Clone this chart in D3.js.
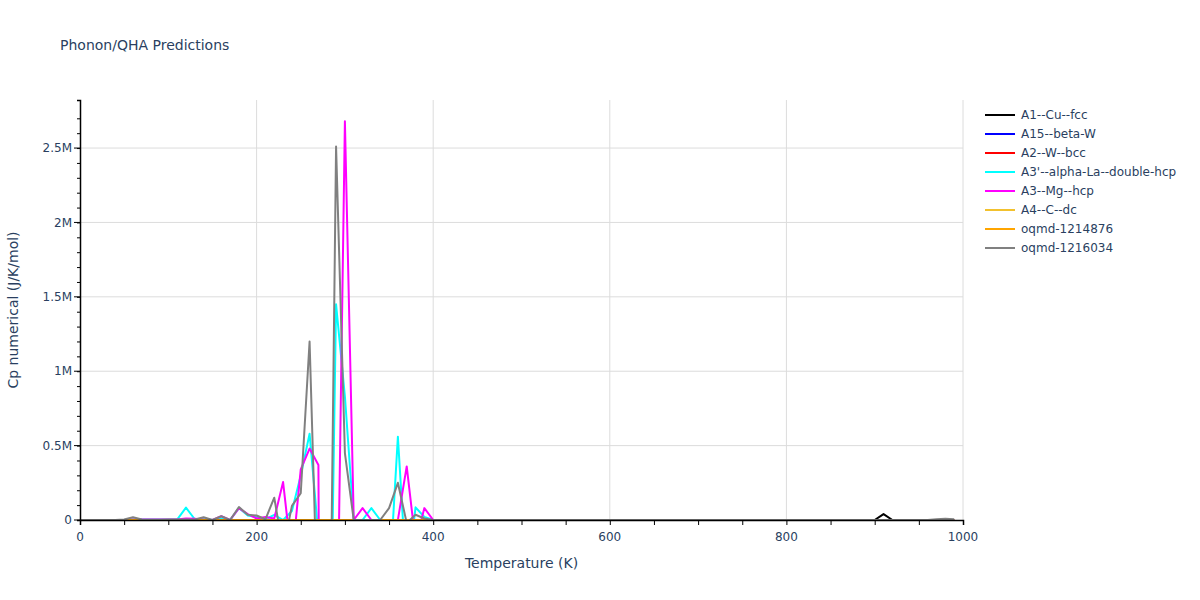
<!DOCTYPE html>
<html>
<head>
<meta charset="utf-8">
<script src="https://cdn.jsdelivr.net/npm/d3@7"></script>
<style>
  body { margin: 0; background: #fff; }
  text { font-family: "DejaVu Sans", Verdana, sans-serif; }
</style>
</head>
<body>
<div id="plot"></div>
<script>
// Temperature grid (K)
const temps = [
  0, 10, 20, 30, 40, 50, 60, 70, 80, 90, 100, 110, 120, 130, 140, 150, 160, 170, 180, 190,
  200, 210, 220, 230, 240, 250, 260, 270, 280, 290, 300, 310, 320, 330, 340, 350, 360, 370, 380, 390,
  400, 410, 420, 430, 440, 450, 460, 470, 480, 490, 500, 510, 520, 530, 540, 550, 560, 570, 580, 590,
  600, 610, 620, 630, 640, 650, 660, 670, 680, 690, 700, 710, 720, 730, 740, 750, 760, 770, 780, 790,
  800, 810, 820, 830, 840, 850, 860, 870, 880, 890, 900, 910, 920, 930, 940, 950, 960, 970, 980, 990
];

// Series names (legend order)
const seriesNames = ["A1--Cu--fcc", "A15--beta-W", "A2--W--bcc", "A3'--alpha-La--double-hcp",
  "A3--Mg--hcp", "A4--C--dc", "oqmd-1214876", "oqmd-1216034"];

// Cp values, in millions of J/K/mol, one per temperature
const cpA1 = [
  0, 0, 0, 0, 0, 0, 0, 0, 0, 0, 0, 0, 0, 0, 0, 0, 0, 0, 0, 0,
  0, 0, 0, 0, 0, 0, 0, 0, 0, 0, 0, 0, 0, 0, 0, 0, 0, 0, 0, 0,
  0, 0, 0, 0, 0, 0, 0, 0, 0, 0, 0, 0, 0, 0, 0, 0, 0, 0, 0, 0,
  0, 0, 0, 0, 0, 0, 0, 0, 0, 0, 0, 0, 0, 0, 0, 0, 0, 0, 0, 0,
  0, 0, 0, 0, 0, 0, 0, 0, 0, 0, 0, 0.04, 0, 0, 0, 0, 0, 0, 0, 0
];
const cpA15 = [
  0, 0, 0, 0, 0, 0, 0, 0, 0, 0, 0, 0, 0, 0, 0, 0, 0, 0, 0, 0,
  0, 0, 0, 0, 0, 0, 0, 0, 0, 0, 0, 0, 0, 0, 0, 0, 0, 0, 0, 0,
  0, 0, 0, 0, 0, 0, 0, 0, 0, 0, 0, 0, 0, 0, 0, 0, 0, 0, 0, 0,
  0, 0, 0, 0, 0, 0, 0, 0, 0, 0, 0, 0, 0, 0, 0, 0, 0, 0, 0, 0,
  0, 0, 0, 0, 0, 0, 0, 0, 0, 0, 0, 0, 0, 0, 0, 0, 0, 0, 0, 0
];
const cpA2 = [
  0, 0, 0, 0, 0, 0, 0, 0, 0, 0, 0, 0, 0, 0, 0, 0, 0, 0, 0, 0,
  0, 0, 0, 0, 0, 0, 0, 0, 0, 0, 0, 0, 0, 0, 0, 0, 0, 0, 0, 0,
  0, 0, 0, 0, 0, 0, 0, 0, 0, 0, 0, 0, 0, 0, 0, 0, 0, 0, 0, 0,
  0, 0, 0, 0, 0, 0, 0, 0, 0, 0, 0, 0, 0, 0, 0, 0, 0, 0, 0, 0,
  0, 0, 0, 0, 0, 0, 0, 0, 0, 0, 0, 0, 0, 0, 0, 0, 0, 0, 0, 0
];
const cpA3La = [
  0, 0, 0, 0, 0, 0, 0.003, 0.003, 0.003, 0.003, 0.003, 0.003, 0.083, 0.005, 0.005, 0, 0.01, 0, 0.08, 0.03,
  0.02, 0.005, 0.035, 0, 0.06, 0.3, 0.58, -0.1, -2.4, 1.45, 0.83, 0, 0, 0.08, 0, -0.46, 0.56, -0.42, 0.085, 0.02,
  0, 0, 0, 0, 0, 0, 0, 0, 0, 0, 0, 0, 0, 0, 0, 0, 0, 0, 0, 0,
  0, 0, 0, 0, 0, 0, 0, 0, 0, 0, 0, 0, 0, 0, 0, 0, 0, 0, 0, 0,
  0, 0, 0, 0, 0, 0, 0, 0, 0, 0, 0, 0, 0, 0, 0, 0, 0, 0, 0, 0
];
const cpA3Mg = [
  0, 0, 0, 0, 0, 0, 0.003, 0.003, 0.003, 0.003, 0.003, 0.003, 0.01, 0.008, 0.003, 0, 0.025, 0, 0.08, 0.04,
  0.01, 0.02, 0.01, 0.255, -0.27, 0.34, 0.48, 0.37, -10, -1.38, 2.68, 0, 0.08, 0, 0, 0, 0, 0.36, -0.15, 0.08,
  0, 0, 0, 0, 0, 0, 0, 0, 0, 0, 0, 0, 0, 0, 0, 0, 0, 0, 0, 0,
  0, 0, 0, 0, 0, 0, 0, 0, 0, 0, 0, 0, 0, 0, 0, 0, 0, 0, 0, 0,
  0, 0, 0, 0, 0, 0, 0, 0, 0, 0, 0, 0, 0, 0, 0, 0, 0, 0, 0, 0
];
const cpA4 = [
  0, 0, 0, 0, 0, 0, 0, 0, 0, 0, 0, 0, 0, 0, 0, 0, 0, 0, 0, 0,
  0, 0, 0, 0, 0, 0, 0, 0, 0, 0, 0, 0, 0, 0, 0, 0, 0, 0, 0, 0,
  0, 0, 0, 0, 0, 0, 0, 0, 0, 0, 0, 0, 0, 0, 0, 0, 0, 0, 0, 0,
  0, 0, 0, 0, 0, 0, 0, 0, 0, 0, 0, 0, 0, 0, 0, 0, 0, 0, 0, 0,
  0, 0, 0, 0, 0, 0, 0, 0, 0, 0, 0, 0, 0, 0, 0, 0, 0, 0, 0, 0
];
const cpOqmd1214876 = [
  0, 0, 0, 0, 0, 0, 0, 0, 0, 0, 0, 0, 0, 0, 0, 0, 0, 0, 0, 0,
  0, 0, 0, 0, 0, 0, 0, 0, 0, 0, 0, 0, 0, 0, 0, 0, 0, 0, 0, 0,
  0, 0, 0, 0, 0, 0, 0, 0, 0, 0, 0, 0, 0, 0, 0, 0, 0, 0, 0, 0,
  0, 0, 0, 0, 0, 0, 0, 0, 0, 0, 0, 0, 0, 0, 0, 0, 0, 0, 0, 0,
  0, 0, 0, 0, 0, 0, 0, 0, 0, 0, 0, 0, 0, 0, 0, 0, 0, 0, 0, 0
];
const cpOqmd1216034 = [
  0, 0, 0, 0, 0, 0.003, 0.018, 0.003, 0.002, 0.002, 0.003, 0.003, 0.004, 0.003, 0.018, 0, 0.025, 0, 0.087, 0.035,
  0.03, 0.005, 0.15, -0.2, 0.095, 0.18, 1.2, -0.8, -2.6, 2.51, 0.45, 0, 0, 0, 0, 0.08, 0.25, -0.02, 0.035, 0.01,
  0, 0, 0, 0, 0, 0, 0, 0, 0, 0, 0, 0, 0, 0, 0, 0, 0, 0, 0, 0,
  0, 0, 0, 0, 0, 0, 0, 0, 0, 0, 0, 0, 0, 0, 0, 0, 0, 0, 0, 0,
  0, 0, 0, 0, 0, 0, 0, 0, 0, 0, 0, 0, 0, 0, 0, 0, 0, 0.005, 0.008, 0.005
];

const seriesColors = ["#000000", "#0000ff", "#ff0000", "#00ffff", "#ff00ff", "#f2c12e", "#ffa500", "#808080"];
const seriesValues = [cpA1, cpA15, cpA2, cpA3La, cpA3Mg, cpA4, cpOqmd1214876, cpOqmd1216034];

const xTicks = [0, 200, 400, 600, 800, 1000];
const yTicks = [0, 0.5e6, 1e6, 1.5e6, 2e6, 2.5e6];
const yTickLabels = ["0", "0.5M", "1M", "1.5M", "2M", "2.5M"];

// Layout
const W = 1200, H = 600;
const margin = { top: 100, right: 237, bottom: 80, left: 80 };
const width = W - margin.left - margin.right;
const height = H - margin.top - margin.bottom;
const textColor = "#2a3f5f";

const svg = d3.select("#plot")
  .append("svg")
  .attr("width", W)
  .attr("height", H);

const x = d3.scaleLinear().domain([0, 1000]).range([0, width]);
const y = d3.scaleLinear().domain([0, 2.823e6]).range([height, 0]);

const g = svg.append("g")
  .attr("transform", `translate(${margin.left}, ${margin.top})`);

// Gridlines
g.append("g")
  .selectAll("line")
  .data(xTicks.filter(d => d > 0))
  .enter()
  .append("line")
  .attr("x1", d => x(d)).attr("x2", d => x(d))
  .attr("y1", 0).attr("y2", height)
  .attr("stroke", "#dcdcdc");

g.append("g")
  .selectAll("line")
  .data(yTicks.filter(d => d > 0))
  .enter()
  .append("line")
  .attr("x1", 0).attr("x2", width)
  .attr("y1", d => y(d)).attr("y2", d => y(d))
  .attr("stroke", "#dcdcdc");

// Clip for lines
svg.append("clipPath")
  .attr("id", "clip")
  .append("rect")
  .attr("x", 0).attr("y", 0)
  .attr("width", width).attr("height", height + 1);

const line = d3.line()
  .x(d => x(d[0]))
  .y(d => y(d[1]));

const lines = g.append("g").attr("clip-path", "url(#clip)");
seriesValues.forEach((vals, i) => {
  const pts = temps.map((t, j) => [t, vals[j] * 1e6]);
  lines.append("path")
    .datum(pts)
    .attr("d", line)
    .attr("fill", "none")
    .attr("stroke", seriesColors[i])
    .attr("stroke-width", 2)
    .attr("stroke-linejoin", "round");
});

// X axis with minor ticks every 50
const xAxis = g.append("g")
  .attr("transform", `translate(0, ${height})`)
  .call(d3.axisBottom(x).tickValues(d3.range(0, 1001, 50)).tickSize(5).tickFormat(""));
xAxis.select(".domain").attr("stroke", "#000").attr("stroke-width", 1.5);
xAxis.selectAll(".tick line").attr("stroke", "#000");

g.append("g")
  .selectAll("text")
  .data(xTicks)
  .enter()
  .append("text")
  .attr("x", d => x(d))
  .attr("y", height + 21)
  .attr("text-anchor", "middle")
  .style("font-size", "12px")
  .style("fill", textColor)
  .text(d => d);

// Y axis: minor ticks every 0.1M, major every 0.5M
const yAxis = g.append("g")
  .call(d3.axisLeft(y).tickValues(d3.range(0, 28).map(d => d * 1e5)).tickSize(3).tickFormat(""));
yAxis.select(".domain").attr("stroke", "#000").attr("stroke-width", 1.5);
yAxis.selectAll(".tick line").attr("stroke", "#000");

g.append("g")
  .selectAll("line")
  .data(yTicks)
  .enter()
  .append("line")
  .attr("x1", -6).attr("x2", 0)
  .attr("y1", d => y(d)).attr("y2", d => y(d))
  .attr("stroke", "#000");

g.append("g")
  .selectAll("text")
  .data(yTicks)
  .enter()
  .append("text")
  .attr("x", -8)
  .attr("y", d => y(d))
  .attr("dy", "0.35em")
  .attr("text-anchor", "end")
  .style("font-size", "12px")
  .style("fill", textColor)
  .text((d, i) => yTickLabels[i]);

// Axis titles
svg.append("text")
  .attr("x", margin.left + width / 2)
  .attr("y", 568)
  .attr("text-anchor", "middle")
  .style("font-size", "14px")
  .style("fill", textColor)
  .text("Temperature (K)");

svg.append("text")
  .attr("transform", `translate(18, ${margin.top + height / 2}) rotate(-90)`)
  .attr("text-anchor", "middle")
  .style("font-size", "14px")
  .style("fill", textColor)
  .text("Cp numerical (J/K/mol)");

// Title
svg.append("text")
  .attr("x", 60)
  .attr("y", 50)
  .style("font-size", "14px")
  .style("fill", textColor)
  .text("Phonon/QHA Predictions");

// Legend
const legend = svg.append("g")
  .attr("transform", "translate(985, 115)");
seriesNames.forEach((name, i) => {
  const row = legend.append("g").attr("transform", `translate(0, ${i * 19})`);
  row.append("line")
    .attr("x1", 0).attr("x2", 30)
    .attr("y1", 0).attr("y2", 0)
    .attr("stroke", seriesColors[i])
    .attr("stroke-width", 2);
  row.append("text")
    .attr("x", 36)
    .attr("y", 0)
    .attr("dy", "0.35em")
    .style("font-size", "12px")
    .style("fill", textColor)
    .text(name);
});
</script>
</body>
</html>
